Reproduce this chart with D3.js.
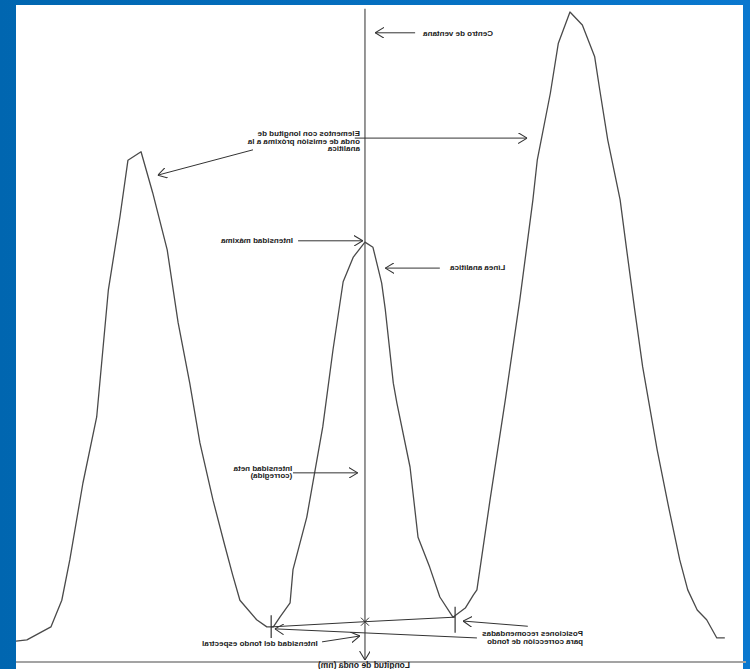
<!DOCTYPE html>
<html>
<head>
<meta charset="utf-8">
<script src="https://cdn.jsdelivr.net/npm/d3@7"></script>
<style>
  html, body { margin: 0; padding: 0; background: #0068b2; }
  svg { display: block; }
  .note { font-family: 'Liberation Sans', Arial, sans-serif; font-size: 8px; font-weight: bold; fill: #1a1a1a; }
  .axis-label { font-family: 'Liberation Sans', Arial, sans-serif; font-size: 8.5px; font-weight: bold; fill: #1a1a1a; }
</style>
</head>
<body>
<div id="plot"></div>
<script>
/* Spectrum (arbitrary units) */
const WAVELENGTH = [100.0, 98.5, 95.2, 93.7, 92.6, 90.8, 88.9, 87.3, 85.7, 84.6,
  82.8, 81.2, 79.2, 77.7, 76.1, 74.7, 72.9, 71.3, 70.2, 69.2,
  66.9, 65.5, 64.6, 63.7, 62.3, 61.9, 60.0, 57.8, 56.4, 55.0,
  53.6, 52.0, 50.9, 49.7, 49.2, 48.1, 47.6, 45.8, 44.7, 43.1,
  41.7, 39.9, 38.2, 37.1, 36.6, 34.8, 32.7, 30.7, 28.9, 28.3,
  26.5, 25.4, 23.8, 22.1, 20.4, 19.7, 18.6, 16.9, 16.0, 14.9,
  13.8, 11.8, 10.3, 8.7, 7.6, 6.3, 5.0, 3.6, 2.5];
const INTENSITY = [3.2, 3.4, 5.4, 9.5, 15.7, 27.5, 37.7, 57.2, 68.5, 77.2,
  78.5, 72.2, 63.4, 52.2, 42.9, 33.7, 24.9, 18.0, 13.4, 9.5,
  6.5, 5.4, 5.4, 6.9, 9.1, 14.2, 22.3, 36.2, 48.0, 58.5,
  62.3, 64.6, 63.8, 58.3, 54.2, 42.9, 39.8, 30.0, 19.2, 14.6,
  10.0, 6.9, 8.3, 10.3, 11.1, 24.9, 40.3, 55.7, 71.1, 77.2,
  87.5, 95.2, 100.0, 98.0, 93.1, 88.0, 80.3, 71.1, 63.4, 54.2,
  45.4, 32.6, 24.2, 15.7, 11.1, 8.0, 6.5, 3.7, 3.7];

const WINDOW_CENTRE = 52.0;

// background correction points (left, centre, right)
const BG_WL = [64.9, 52.0, 39.6];
const BG_INT = [5.4, 6.2, 6.9];
const BG_TICK_TOP = [7.2, 0, 8.5];
const BG_TICK_BOTTOM = [3.7, 0, 4.5];

const NOTE_LINES = [
  ['Centro de ventana'],
  ['Elementos con longitud de', 'onda de emisión próxima a la', 'analítica'],
  ['Intensidad máxima'],
  ['Línea analítica'],
  ['Intensidad neta', '(corregida)'],
  ['Posiciones recomendadas', 'para corrección de fondo'],
  ['Intensidad del fondo espectral']
];
const NOTE_WL = [34.4, 52.7, 61.9, 32.7, 62.0, 22.0, 58.5];
const NOTE_INT = [96.3, 80.9, 64.4, 60.3, 29.4, 4.0, 2.5];

// [from wl, from int, to wl, to int]
const ARROWS = [
  [45.1, 96.8, 50.6, 96.8],
  [53.4, 80.6, 29.7, 80.6],
  [67.4, 78.8, 80.5, 74.9],
  [61.2, 64.8, 52.3, 64.8],
  [41.7, 60.6, 49.2, 60.6],
  [61.9, 29.1, 53.0, 29.1],
  [29.6, 5.5, 38.5, 6.3],
  [36.6, 3.7, 64.4, 5.1],
  [57.9, 3.1, 52.7, 4.0]
];

const AXIS_TITLE = 'Longitud de onda (nm)';

var W = 750, H = 669;
var svg = d3.select('div#plot').append('svg')
  .attr('width', W)
  .attr('height', H);

var defs = svg.append('defs');
var grad = defs.append('linearGradient').attr('id', 'bluebg')
  .attr('x1', 0).attr('x2', 1).attr('y1', 0).attr('y2', 0);
grad.append('stop').attr('offset', '0%').attr('stop-color', '#0066b0');
grad.append('stop').attr('offset', '100%').attr('stop-color', '#0a78cf');

defs.append('marker')
  .attr('id', 'head')
  .attr('viewBox', '0 0 10 12')
  .attr('refX', 10).attr('refY', 6)
  .attr('markerWidth', 9).attr('markerHeight', 11)
  .attr('markerUnits', 'userSpaceOnUse')
  .attr('orient', 'auto')
  .append('path')
  .attr('d', 'M0,0 L10,6 L0,12')
  .attr('fill', 'none')
  .attr('stroke', '#333')
  .attr('stroke-width', 1.2);

svg.append('rect').attr('width', W).attr('height', H).attr('fill', 'url(#bluebg)');
svg.append('rect')
  .attr('x', 16).attr('y', 5)
  .attr('width', 727).attr('height', H - 5)
  .attr('fill', '#fff');

// the slide shows the figure mirrored left-right, text included
var g = svg.append('g').attr('transform', 'translate(' + W + ',0) scale(-1,1)');

var x = d3.scaleLinear().domain([0, 100]).range([7, 734]);
var y = d3.scaleLinear().domain([0, 100]).range([662, 12]);

// wavelength axis
g.append('line')
  .attr('x1', x(0) - 3).attr('x2', x(100))
  .attr('y1', y(0)).attr('y2', y(0))
  .attr('stroke', '#a3a3a3')
  .attr('stroke-width', 2);
g.append('text')
  .attr('class', 'axis-label')
  .attr('x', x(45.8))
  .attr('y', y(0) + 6)
  .text(AXIS_TITLE);

// window centre
g.append('line')
  .attr('x1', x(WINDOW_CENTRE)).attr('x2', x(WINDOW_CENTRE))
  .attr('y1', y(100.5)).attr('y2', y(0.3))
  .attr('stroke', '#7d7d7d')
  .attr('stroke-width', 1.6)
  .attr('marker-end', 'url(#head)');

// spectrum
var spectrum = WAVELENGTH.map(function(w, i) { return { w: w, v: INTENSITY[i] }; });
var line = d3.line()
  .x(function(d) { return x(d.w); })
  .y(function(d) { return y(d.v); });
g.append('path')
  .datum(spectrum)
  .attr('d', line)
  .attr('fill', 'none')
  .attr('stroke', '#4a4a4a')
  .attr('stroke-width', 1.3)
  .attr('stroke-linejoin', 'round');

// background line + markers
var bg = BG_WL.map(function(w, i) { return { w: w, v: BG_INT[i] }; });
g.append('path')
  .datum(bg)
  .attr('d', line)
  .attr('fill', 'none')
  .attr('stroke', '#333')
  .attr('stroke-width', 1);
bg.forEach(function(d, i) {
  if (i === 1) {
    var cx = x(d.w), cy = y(d.v), r = 4;
    g.append('path')
      .attr('d', 'M' + (cx - r) + ',' + (cy - r) + 'L' + (cx + r) + ',' + (cy + r) +
                 'M' + (cx - r) + ',' + (cy + r) + 'L' + (cx + r) + ',' + (cy - r))
      .attr('stroke', '#333').attr('stroke-width', 1);
  } else {
    g.append('line')
      .attr('x1', x(d.w)).attr('x2', x(d.w))
      .attr('y1', y(BG_TICK_TOP[i])).attr('y2', y(BG_TICK_BOTTOM[i]))
      .attr('stroke', '#333').attr('stroke-width', 1.2);
  }
});

// annotations
g.selectAll('line.arrow')
  .data(ARROWS)
  .enter()
  .append('line')
  .attr('class', 'arrow')
  .attr('x1', function(a) { return x(a[0]); })
  .attr('y1', function(a) { return y(a[1]); })
  .attr('x2', function(a) { return x(a[2]); })
  .attr('y2', function(a) { return y(a[3]); })
  .attr('stroke', '#333')
  .attr('stroke-width', 1)
  .attr('marker-end', 'url(#head)');

NOTE_LINES.forEach(function(lines, i) {
  var t = g.append('text')
    .attr('class', 'note')
    .attr('x', x(NOTE_WL[i]))
    .attr('y', y(NOTE_INT[i]));
  lines.forEach(function(s, j) {
    t.append('tspan')
      .attr('x', x(NOTE_WL[i]))
      .attr('dy', j === 0 ? 0 : 7.5)
      .text(s);
  });
});
</script>
</body>
</html>
